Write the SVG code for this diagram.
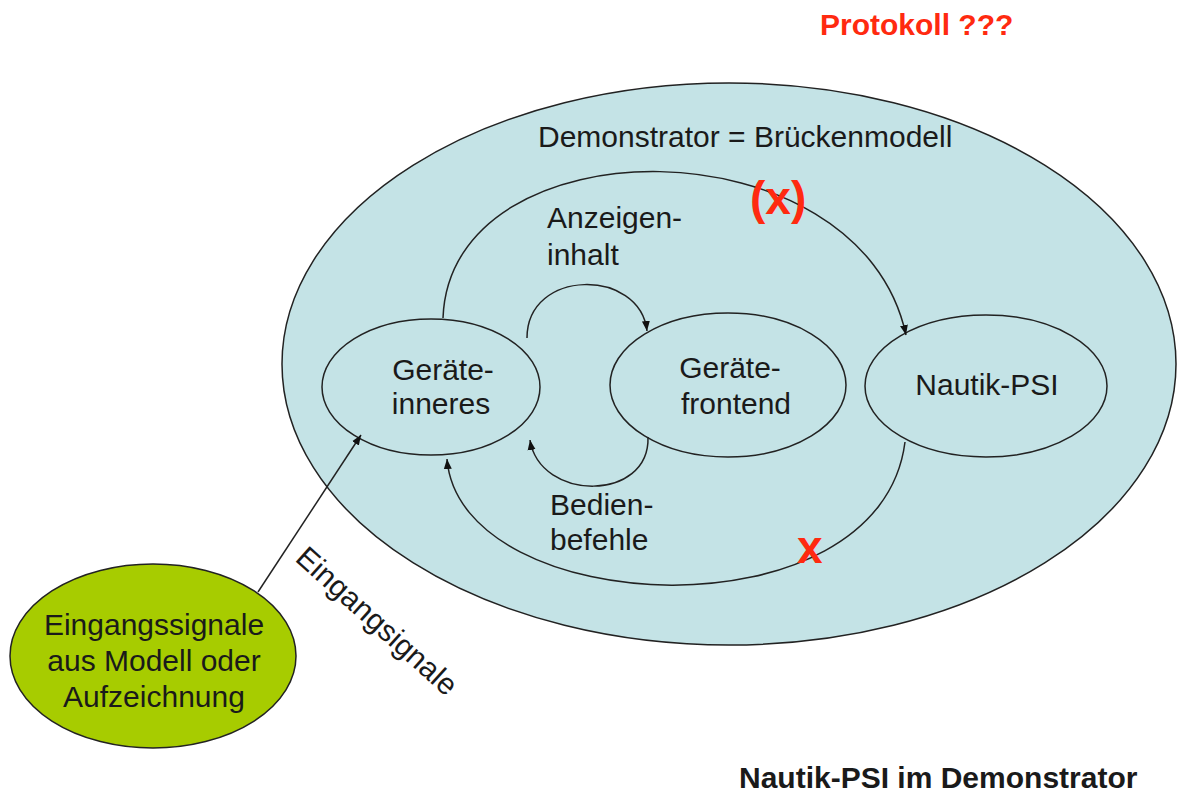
<svg xmlns="http://www.w3.org/2000/svg" width="1177" height="796" viewBox="0 0 1177 796">
  <style>
    text { font-family: "Liberation Sans", Arial, sans-serif; font-size: 30px; fill: #1a1a1a; }
    .bold { font-weight: bold; }
    .red { fill: #ff2a10; font-weight: bold; }
    .node { stroke: #222; stroke-width: 1.5; }
    .edge { fill: none; stroke: #222; stroke-width: 1.5; marker-end: url(#arrow); }
    .mid { text-anchor: middle; }
  </style>
  <defs>
    <marker id="arrow" viewBox="0 0 10 10" refX="10" refY="5" markerWidth="10" markerHeight="10" markerUnits="userSpaceOnUse" orient="auto">
      <path d="M0,1 L10,5 L0,9 Z" fill="#111"/>
    </marker>
  </defs>

  <rect width="1177" height="796" fill="#fff"/>

  <text class="red" x="820" y="35">Protokoll ???</text>

  <!-- outer container: Demonstrator -->
  <g id="demonstrator">
    <ellipse class="node" cx="729" cy="364" rx="447" ry="281" fill="#c4e3e6"/>
    <text x="538" y="147">Demonstrator = Brückenmodell</text>
  </g>

  <g id="geraete-inneres">
    <ellipse class="node" cx="431" cy="387" rx="109" ry="68" fill="#c4e3e6"/>
    <text class="mid" x="443" y="380">Geräte-</text>
    <text class="mid" x="441" y="414">inneres</text>
  </g>

  <g id="geraete-frontend">
    <ellipse class="node" cx="728" cy="385" rx="118" ry="72" fill="#c4e3e6"/>
    <text class="mid" x="730" y="378">Geräte-</text>
    <text class="mid" x="736" y="414">frontend</text>
  </g>

  <g id="nautik-psi">
    <ellipse class="node" cx="986" cy="386" rx="121" ry="71" fill="#c4e3e6"/>
    <text class="mid" x="987" y="395">Nautik-PSI</text>
  </g>

  <g id="eingangssignale">
    <ellipse class="node" cx="153" cy="656" rx="143" ry="92" fill="#a7cc00"/>
    <text class="mid" x="154" y="635">Eingangssignale</text>
    <text class="mid" x="154" y="671">aus Modell oder</text>
    <text class="mid" x="154" y="707">Aufzeichnung</text>
  </g>

  <g id="connectors">
    <path class="edge" d="M443,318 C450,120 860,120 906,335"/>
    <path class="edge" d="M527,338 C527,268 640,268 647,331"/>
    <path class="edge" d="M648,437 C650,502 540,502 530,440"/>
    <path class="edge" d="M905,442 C880,640 460,620 447,459"/>
    <path class="edge" d="M258,592 L361,435"/>
  </g>

  <g id="labels">
    <text x="547" y="228">Anzeigen-</text>
    <text x="547" y="265">inhalt</text>
    <text x="550" y="515">Bedien-</text>
    <text x="550" y="550">befehle</text>
    <text class="red" style="font-size:46px" x="750" y="214">(x)</text>
    <text class="red" style="font-size:46px" x="797" y="563">x</text>
    <text transform="translate(294,560) rotate(42)">Eingangsignale</text>
  </g>

  <text class="bold" x="739" y="788">Nautik-PSI im Demonstrator</text>
</svg>
